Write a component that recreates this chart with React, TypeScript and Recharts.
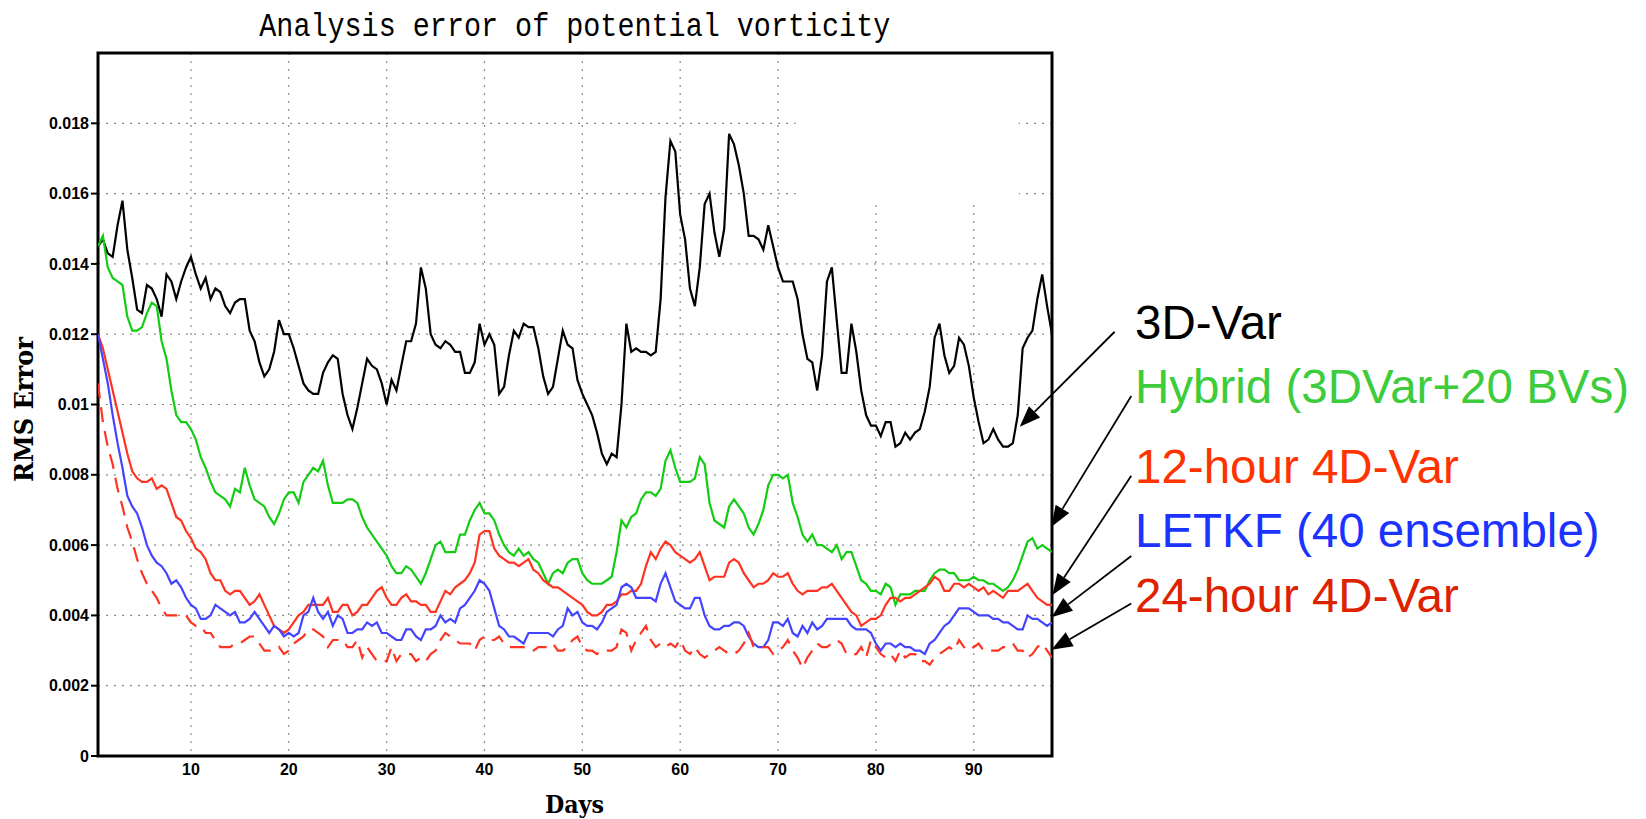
import {
  LineChart,
  Line,
  XAxis,
  YAxis,
  CartesianGrid,
  ReferenceArea,
  ReferenceLine,
} from "recharts";

// analysis every 12 hours, day 0.5 .. 98
const days = Array.from({ length: 196 }, (_, i) => 0.5 + i * 0.5);

const threeDVar = [
  0.0145, 0.0147, 0.0143, 0.0142, 0.0151, 0.0158, 0.0144, 0.0136, 0.0127, 0.0126,
  0.0134, 0.0133, 0.013, 0.0125, 0.0137, 0.0135, 0.013, 0.0135, 0.0139, 0.0142,
  0.0137, 0.0133, 0.0136, 0.013, 0.0133, 0.0132, 0.0128, 0.0126, 0.0129, 0.013,
  0.013, 0.0121, 0.0118, 0.0112, 0.0108, 0.011, 0.0115, 0.0124, 0.012, 0.012,
  0.0116, 0.0111, 0.0106, 0.0104, 0.0103, 0.0103, 0.0109, 0.0112, 0.0114, 0.0113,
  0.0103, 0.0097, 0.0093, 0.0099, 0.0106, 0.0113, 0.0111, 0.011, 0.0106, 0.01,
  0.0107, 0.0104, 0.0111, 0.0118, 0.0118, 0.0123, 0.0139, 0.0133, 0.012, 0.0117,
  0.0116, 0.0118, 0.0117, 0.0115, 0.0115, 0.0109, 0.0109, 0.0112, 0.0123, 0.0117,
  0.012, 0.0117, 0.0103, 0.0105, 0.0114, 0.0121, 0.0119, 0.0123, 0.0122, 0.0122,
  0.0116, 0.0108, 0.0103, 0.0105, 0.0113, 0.0121, 0.0117, 0.0116, 0.0107, 0.0103,
  0.01, 0.0097, 0.0092, 0.0086, 0.0083, 0.0086, 0.0085, 0.01, 0.0123, 0.0115,
  0.0116, 0.0115, 0.0115, 0.0114, 0.0115, 0.013, 0.0159, 0.0175, 0.0172, 0.0154,
  0.0147, 0.0133, 0.0128, 0.0139, 0.0157, 0.016, 0.0149, 0.0142, 0.015, 0.0177,
  0.0174, 0.0168, 0.016, 0.0148, 0.0148, 0.0147, 0.0144, 0.0151, 0.0145, 0.0139,
  0.0135, 0.0135, 0.0135, 0.013, 0.012, 0.0113, 0.0112, 0.0104, 0.0114, 0.0135,
  0.0139, 0.0124, 0.0109, 0.0109, 0.0123, 0.0115, 0.0104, 0.0097, 0.0094, 0.0094,
  0.0091, 0.0095, 0.0095, 0.0088, 0.0089, 0.0092, 0.009, 0.0092, 0.0093, 0.0098,
  0.0105, 0.0119, 0.0123, 0.0114, 0.0109, 0.0111, 0.0119, 0.0117, 0.0111, 0.0102,
  0.0095, 0.0089, 0.009, 0.0093, 0.009, 0.0088, 0.0088, 0.0089, 0.0097, 0.0116,
  0.0119, 0.0121, 0.013, 0.0137, 0.0128, 0.012,
];

const hybrid = [
  0.0145, 0.0148, 0.0139, 0.0136, 0.0135, 0.0134, 0.0125, 0.0121, 0.0121, 0.0122,
  0.0126, 0.0129, 0.0128, 0.0118, 0.0113, 0.0104, 0.0097, 0.0095, 0.0095, 0.0093,
  0.009, 0.0085, 0.0082, 0.0078, 0.0075, 0.0074, 0.0073, 0.0071, 0.0076, 0.0075,
  0.0082, 0.0077, 0.0073, 0.0072, 0.0071, 0.0068, 0.0066, 0.0069, 0.0073, 0.0075,
  0.0075, 0.0072, 0.0078, 0.008, 0.0082, 0.0081, 0.0084, 0.0077, 0.0072, 0.0072,
  0.0072, 0.0073, 0.0073, 0.0072, 0.0068, 0.0065, 0.0063, 0.0061, 0.0059, 0.0057,
  0.0054, 0.0052, 0.0052, 0.0054, 0.0053, 0.0051, 0.0049, 0.0052, 0.0056, 0.006,
  0.0061, 0.0058, 0.0058, 0.0058, 0.0063, 0.0063, 0.0067, 0.007, 0.0072, 0.0069,
  0.0069, 0.0067, 0.0063, 0.006, 0.0058, 0.0057, 0.0059, 0.0057, 0.0058, 0.0056,
  0.0055, 0.0052, 0.0049, 0.0052, 0.0053, 0.0052, 0.0055, 0.0056, 0.0056, 0.0052,
  0.005, 0.0049, 0.0049, 0.0049, 0.005, 0.0051, 0.0058, 0.0067, 0.0065, 0.0068,
  0.0069, 0.0073, 0.0075, 0.0075, 0.0074, 0.0076, 0.0084, 0.0087, 0.0082, 0.0078,
  0.0078, 0.0078, 0.0079, 0.0085, 0.0083, 0.0072, 0.0067, 0.0066, 0.0065, 0.0071,
  0.0073, 0.0071, 0.0069, 0.0065, 0.0063, 0.0066, 0.007, 0.0077, 0.008, 0.008,
  0.0079, 0.008, 0.0072, 0.0068, 0.0063, 0.0061, 0.0063, 0.006, 0.006, 0.0059,
  0.0058, 0.006, 0.0056, 0.0058, 0.0058, 0.0054, 0.005, 0.0049, 0.0047, 0.0047,
  0.0046, 0.0049, 0.0048, 0.0043, 0.0046, 0.0046, 0.0046, 0.0047, 0.0047, 0.0047,
  0.005, 0.0052, 0.0053, 0.0053, 0.0052, 0.0052, 0.005, 0.005, 0.005, 0.0051,
  0.005, 0.005, 0.0049, 0.0049, 0.0048, 0.0047, 0.0048, 0.005, 0.0053, 0.0057,
  0.0061, 0.0062, 0.0059, 0.006, 0.0059, 0.0058,
];

const fourDVar12h = [
  0.012, 0.0116, 0.011, 0.0104, 0.0098, 0.0092, 0.0086, 0.0081, 0.0079, 0.0078,
  0.0078, 0.0079, 0.0076, 0.0077, 0.0076, 0.0072, 0.0068, 0.0067, 0.0064, 0.0062,
  0.0059, 0.0058, 0.0056, 0.0052, 0.005, 0.005, 0.0047, 0.0046, 0.0047, 0.0047,
  0.0045, 0.0043, 0.0044, 0.0046, 0.0043, 0.004, 0.0037, 0.0036, 0.0035, 0.0036,
  0.0038, 0.004, 0.0041, 0.0043, 0.0043, 0.0043, 0.0043, 0.0045, 0.0041, 0.0041,
  0.0043, 0.0043, 0.004, 0.0041, 0.0043, 0.0043, 0.0045, 0.0047, 0.0048, 0.0045,
  0.0043, 0.0043, 0.0045, 0.0046, 0.0044, 0.0044, 0.0043, 0.0043, 0.0041, 0.0041,
  0.0044, 0.0047, 0.0046, 0.0048, 0.0049, 0.005, 0.0052, 0.0055, 0.0063, 0.0064,
  0.0064, 0.0059, 0.0057, 0.0056, 0.0055, 0.0055, 0.0054, 0.0055, 0.0056, 0.0053,
  0.0052, 0.005, 0.0049, 0.0048, 0.0048, 0.0047, 0.0046, 0.0045, 0.0044, 0.0043,
  0.0041, 0.004, 0.004, 0.0041, 0.0043, 0.0043, 0.0044, 0.0046, 0.0046, 0.0047,
  0.0047, 0.0049, 0.0054, 0.0058, 0.0056, 0.0059, 0.0061, 0.006, 0.0058, 0.0057,
  0.0056, 0.0055, 0.0056, 0.0058, 0.0054, 0.005, 0.0051, 0.0051, 0.0051, 0.0055,
  0.0056, 0.0055, 0.0052, 0.005, 0.0048, 0.0049, 0.0049, 0.005, 0.0052, 0.0051,
  0.0051, 0.0052, 0.0049, 0.0047, 0.0046, 0.0047, 0.0047, 0.0047, 0.0048, 0.0048,
  0.0049, 0.0047, 0.0045, 0.0043, 0.0041, 0.004, 0.0037, 0.0038, 0.0039, 0.0039,
  0.004, 0.0043, 0.0045, 0.0045, 0.0044, 0.0045, 0.0045, 0.0046, 0.0047, 0.0048,
  0.0049, 0.0051, 0.005, 0.0047, 0.0047, 0.0049, 0.0049, 0.0048, 0.0049, 0.0048,
  0.0047, 0.0048, 0.0046, 0.0047, 0.0046, 0.0045, 0.0047, 0.0047, 0.0047, 0.0048,
  0.0049, 0.0047, 0.0045, 0.0044, 0.0043, 0.0043,
];

const letkf = [
  0.012, 0.0113, 0.0106, 0.0097, 0.0089, 0.0082, 0.0074, 0.0071, 0.0069, 0.0065,
  0.006, 0.0057, 0.0055, 0.0054, 0.0052, 0.0049, 0.005, 0.0048, 0.0045, 0.0043,
  0.0042, 0.0039, 0.0039, 0.004, 0.0043, 0.0042, 0.0041, 0.004, 0.0041, 0.0038,
  0.0038, 0.0039, 0.0041, 0.0039, 0.0037, 0.0035, 0.0037, 0.0036, 0.0034, 0.0035,
  0.0034, 0.0035, 0.004, 0.0041, 0.0045, 0.0041, 0.0039, 0.0041, 0.0037, 0.004,
  0.0039, 0.0035, 0.0035, 0.0036, 0.0036, 0.0038, 0.0037, 0.0038, 0.0035, 0.0035,
  0.0034, 0.0033, 0.0033, 0.0036, 0.0036, 0.0034, 0.0033, 0.0036, 0.0036, 0.0037,
  0.004, 0.0038, 0.0039, 0.0038, 0.0042, 0.0043, 0.0045, 0.0047, 0.005, 0.0049,
  0.0047, 0.0042, 0.0037, 0.0036, 0.0034, 0.0034, 0.0033, 0.0032, 0.0035, 0.0035,
  0.0035, 0.0035, 0.0035, 0.0034, 0.0036, 0.0037, 0.0042, 0.004, 0.0041, 0.0038,
  0.0037, 0.0037, 0.0036, 0.0038, 0.0041, 0.0042, 0.0043, 0.0048, 0.0049, 0.0048,
  0.0045, 0.0045, 0.0045, 0.0045, 0.0044, 0.0049, 0.0052, 0.0048, 0.0044, 0.0043,
  0.0042, 0.0042, 0.0045, 0.0045, 0.004, 0.0037, 0.0036, 0.0036, 0.0037, 0.0037,
  0.0038, 0.0038, 0.0037, 0.0034, 0.0032, 0.0031, 0.0031, 0.0033, 0.0038, 0.0038,
  0.0037, 0.0039, 0.0035, 0.0034, 0.0037, 0.0035, 0.0038, 0.0036, 0.0037, 0.0039,
  0.0039, 0.0039, 0.0039, 0.0039, 0.0037, 0.0036, 0.0036, 0.0036, 0.0035, 0.0032,
  0.003, 0.0032, 0.0032, 0.0031, 0.0032, 0.0031, 0.0031, 0.003, 0.003, 0.0029,
  0.0032, 0.0033, 0.0035, 0.0037, 0.0038, 0.004, 0.0042, 0.0042, 0.0042, 0.0041,
  0.004, 0.004, 0.004, 0.0039, 0.0039, 0.0038, 0.0038, 0.0037, 0.0036, 0.0036,
  0.004, 0.0039, 0.0039, 0.0038, 0.0037, 0.0038,
];

const fourDVar24h = [
  0.0106, 0.0095, 0.0088, 0.0083, 0.0076, 0.0071, 0.0065, 0.0061, 0.0056, 0.0052,
  0.0049, 0.0047, 0.0045, 0.0042, 0.004, 0.004, 0.004, 0.004, 0.004, 0.0038,
  0.0037, 0.0037, 0.0035, 0.0035, 0.0033, 0.0031, 0.0031, 0.0031, 0.0032, 0.0032,
  0.0033, 0.0034, 0.0034, 0.0032, 0.003, 0.003, 0.003, 0.0031, 0.0029, 0.003,
  0.0032, 0.0033, 0.0034, 0.0036, 0.0036, 0.0035, 0.0034, 0.0031, 0.0033, 0.0033,
  0.0033, 0.0031, 0.0031, 0.0033, 0.0028, 0.0031, 0.0029, 0.0027, 0.0027, 0.0027,
  0.0031, 0.0027, 0.0029, 0.0029, 0.0029, 0.0027, 0.0028, 0.0027, 0.0029, 0.003,
  0.0033, 0.0035, 0.0034, 0.0033, 0.0032, 0.0032, 0.0032, 0.003, 0.0033, 0.0034,
  0.0033, 0.0033, 0.0034, 0.0032, 0.0031, 0.0031, 0.0031, 0.0031, 0.003, 0.003,
  0.0031, 0.0031, 0.0031, 0.0032, 0.003, 0.003, 0.0031, 0.0033, 0.0034, 0.0031,
  0.003, 0.003, 0.0029, 0.003, 0.003, 0.003, 0.0031, 0.0036, 0.0035, 0.003,
  0.0033, 0.0035, 0.0037, 0.0033, 0.0031, 0.0032, 0.0031, 0.0032, 0.0031, 0.0033,
  0.003, 0.0029, 0.0031, 0.0029, 0.0028, 0.0029, 0.003, 0.0031, 0.003, 0.0029,
  0.0029, 0.003, 0.0032, 0.0035, 0.0031, 0.0031, 0.0031, 0.0031, 0.0029, 0.003,
  0.0031, 0.0033, 0.003, 0.0028, 0.0025, 0.0028, 0.003, 0.0032, 0.0031, 0.0031,
  0.0032, 0.0033, 0.0032, 0.0029, 0.0029, 0.0029, 0.0031, 0.0028, 0.0033, 0.0031,
  0.0029, 0.0028, 0.0029, 0.0027, 0.003, 0.0028, 0.0029, 0.0029, 0.0027, 0.0027,
  0.0026, 0.0028, 0.0029, 0.003, 0.0031, 0.003, 0.0033, 0.0031, 0.003, 0.0031,
  0.0032, 0.003, 0.003, 0.003, 0.003, 0.0031, 0.0031, 0.0032, 0.003, 0.003,
  0.0028, 0.0029, 0.0031, 0.0032, 0.003, 0.0028,
];

const xTicks = [10, 20, 30, 40, 50, 60, 70, 80, 90];
const yTicks = [0, 0.002, 0.004, 0.006, 0.008, 0.01, 0.012, 0.014, 0.016, 0.018];

const title = "Analysis error of potential vorticity";
const legendLabels = [
  "3D-Var",
  "Hybrid (3DVar+20 BVs)",
  "12-hour 4D-Var",
  "LETKF (40 ensemble)",
  "24-hour 4D-Var",
];

const rows = days.map((day, i) => ({
  day,
  threeDVar: threeDVar[i],
  hybrid: hybrid[i],
  fourDVar12h: fourDVar12h[i],
  letkf: letkf[i],
  fourDVar24h: fourDVar24h[i],
}));

const W = 1646;
const H = 819;

const tickStyle = {
  fill: "#000",
  fontSize: 16,
  fontWeight: 700,
  fontFamily: "'Liberation Sans', Arial, sans-serif",
};

// pointer arrows from the labels to the line ends (data coordinates)
const arrows = [
  { from: { x: 104.4, y: 0.01207 }, to: { x: 94.7, y: 0.00937 } },
  { from: { x: 106.1, y: 0.01024 }, to: { x: 97.95, y: 0.00652 } },
  { from: { x: 106.1, y: 0.00797 }, to: { x: 98.05, y: 0.00458 } },
  { from: { x: 106.1, y: 0.00569 }, to: { x: 97.95, y: 0.00395 } },
  { from: { x: 106.1, y: 0.00434 }, to: { x: 97.95, y: 0.00302 } },
];

const ArrowShape = (props: any) => {
  const { x1, y1, x2, y2 } = props;
  const a = Math.atan2(y2 - y1, x2 - x1);
  const len = 21;
  const half = 8;
  const bx = x2 - Math.cos(a) * len;
  const by = y2 - Math.sin(a) * len;
  const px = -Math.sin(a) * half;
  const py = Math.cos(a) * half;
  return (
    <g>
      <line x1={x1} y1={y1} x2={bx} y2={by} stroke="#000" strokeWidth={1.8} />
      <polygon
        points={`${x2},${y2} ${bx + px},${by + py} ${bx - px},${by - py}`}
        fill="#000"
      />
    </g>
  );
};

const legendColors = ["#000000", "#3ccc3c", "#ff3300", "#1c33ff", "#dd2200"];
const legendBaselines = [339, 403, 483, 547, 612];

export default function App() {
  return (
    <div
      style={{
        position: "absolute",
        left: 0,
        top: 0,
        width: W,
        height: H,
        background: "#fff",
      }}
    >
      <LineChart
        width={W}
        height={H}
        data={rows}
        margin={{ top: 53, right: 594, bottom: 0, left: 0 }}
      >
        <CartesianGrid stroke="#8a8a8a" strokeDasharray="2 6" strokeWidth={1.2} />
        <XAxis
          type="number"
          dataKey="day"
          domain={[0.5, 98]}
          ticks={xTicks}
          interval={0}
          allowDataOverflow
          axisLine={false}
          tickLine={false}
          tickSize={0}
          tickMargin={8}
          height={63}
          tick={tickStyle}
        />
        <YAxis
          type="number"
          domain={[0, 0.02]}
          ticks={yTicks}
          interval={0}
          allowDataOverflow
          width={98}
          axisLine={false}
          tickLine={{ stroke: "#000", strokeWidth: 2 }}
          tickSize={7}
          tickMargin={2}
          tickFormatter={(v) => String(v)}
          tick={tickStyle}
        />
        <ReferenceArea
          x1={71.8}
          x2={94.6}
          y1={0.0157}
          y2={0.02}
          fill="#fff"
          fillOpacity={1}
          stroke="none"
          ifOverflow="visible"
        />
        <Line
          type="linear"
          dataKey="threeDVar"
          stroke="#000"
          strokeWidth={2.2}
          dot={false}
          isAnimationActive={false}
        />
        <Line
          type="linear"
          dataKey="hybrid"
          stroke="#14cc14"
          strokeWidth={2.2}
          dot={false}
          isAnimationActive={false}
        />
        <Line
          type="linear"
          dataKey="fourDVar12h"
          stroke="#ff3322"
          strokeWidth={2.2}
          dot={false}
          isAnimationActive={false}
        />
        <Line
          type="linear"
          dataKey="letkf"
          stroke="#4444ff"
          strokeWidth={2.2}
          dot={false}
          isAnimationActive={false}
        />
        <Line
          type="linear"
          dataKey="fourDVar24h"
          stroke="#ff3322"
          strokeWidth={2.2}
          strokeDasharray="15 9"
          dot={false}
          isAnimationActive={false}
        />
        {arrows.map((a, i) => (
          <ReferenceLine
            key={i}
            segment={[a.from, a.to]}
            ifOverflow="visible"
            shape={ArrowShape}
          />
        ))}
        <ReferenceArea
          x1={0.5}
          x2={98}
          y1={0}
          y2={0.02}
          fill="none"
          stroke="#000"
          strokeWidth={3}
          ifOverflow="visible"
        />
      </LineChart>
      <svg
        width={W}
        height={H}
        style={{ position: "absolute", left: 0, top: 0, pointerEvents: "none" }}
      >
        <text
          x={574.8}
          y={36}
          textAnchor="middle"
          fontFamily="'Liberation Mono', monospace"
          fontSize={33}
          textLength={631}
          lengthAdjust="spacingAndGlyphs"
          fill="#000"
        >
          {title}
        </text>
        <text
          x={574.5}
          y={813}
          textAnchor="middle"
          fontFamily="'DejaVu Serif', serif"
          fontWeight={700}
          fontSize={25}
          textLength={59}
          lengthAdjust="spacingAndGlyphs"
          fill="#000"
        >
          Days
        </text>
        <text
          transform="translate(33,409.5) rotate(-90)"
          textAnchor="middle"
          fontFamily="'DejaVu Serif', serif"
          fontWeight={700}
          fontSize={26}
          textLength={145}
          lengthAdjust="spacingAndGlyphs"
          fill="#000"
        >
          RMS Error
        </text>
        {legendLabels.map((label, i) => (
          <text
            key={label}
            x={1135}
            y={legendBaselines[i]}
            fontFamily="'Liberation Sans', Arial, sans-serif"
            fontSize={47.5}
            fill={legendColors[i]}
          >
            {label}
          </text>
        ))}
      </svg>
    </div>
  );
}
